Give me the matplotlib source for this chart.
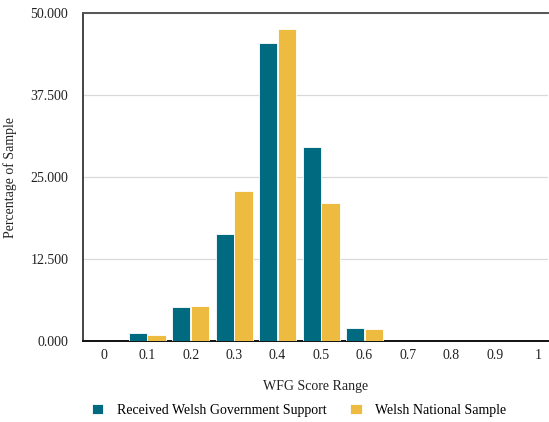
import matplotlib.pyplot as plt
import numpy as np

plt.rcParams['font.family'] = ['Liberation Serif', 'DejaVu Serif']

score_ranges = ["0", "0.1", "0.2", "0.3", "0.4", "0.5", "0.6", "0.7", "0.8", "0.9", "1"]
govt_support = [0, 1.2, 5.2, 16.3, 45.5, 29.6, 2.0, 0, 0, 0, 0]
national_sample = [0, 0.9, 5.4, 22.9, 47.5, 21.0, 1.9, 0, 0, 0, 0]

teal = "#006b80"
yellow = "#ecbb40"

fig = plt.figure(figsize=(5.49, 4.22), dpi=100)
ax = fig.add_axes([0.151, 0.192, 0.847, 0.777])

x = np.arange(len(score_ranges))
w = 0.42
ax.bar(x - 0.215, govt_support, width=w, color=teal, edgecolor="white",
       linewidth=0.6, label="Received Welsh Government Support", zorder=3)
ax.bar(x + 0.215, national_sample, width=w, color=yellow, edgecolor="white",
       linewidth=0.6, label="Welsh National Sample", zorder=3)

ax.set_xlim(-0.48, 10.22)
ax.set_ylim(0, 50)
ax.set_yticks([0, 12.5, 25, 37.5, 50])
ax.set_yticklabels(["0.000", "12.500", "25.000", "37.500", "50.000"])
ax.set_xticks(x)
ax.set_xticklabels(score_ranges)
ax.tick_params(axis="both", length=0, labelsize=10, colors="#222222")
ax.tick_params(axis="y", pad=10.5)
ax.tick_params(axis="x", pad=6)

ax.yaxis.grid(True, color="#d9d9d9", linewidth=0.9, zorder=0)
ax.set_axisbelow(True)

ax.spines["right"].set_visible(False)
ax.spines["top"].set_color("#555555")
ax.spines["top"].set_linewidth(1.4)
ax.spines["left"].set_color("#444444")
ax.spines["left"].set_linewidth(1.4)
ax.spines["bottom"].set_color("#111111")
ax.spines["bottom"].set_linewidth(1.4)

ax.set_xlabel("WFG Score Range", fontsize=10, color="#222222")
ax.xaxis.set_label_coords(0.5, -0.118)
ax.set_ylabel("Percentage of Sample", fontsize=10, color="#222222")
ax.yaxis.set_label_coords(-0.142, 0.5)

fig.legend(loc="center left", bbox_to_anchor=(0.144, 0.028), ncol=2, frameon=False,
           fontsize=10, handlelength=0.8, handleheight=0.8, columnspacing=1.75,
           handletextpad=1.0)

fig.savefig("out.png", dpi=100)
